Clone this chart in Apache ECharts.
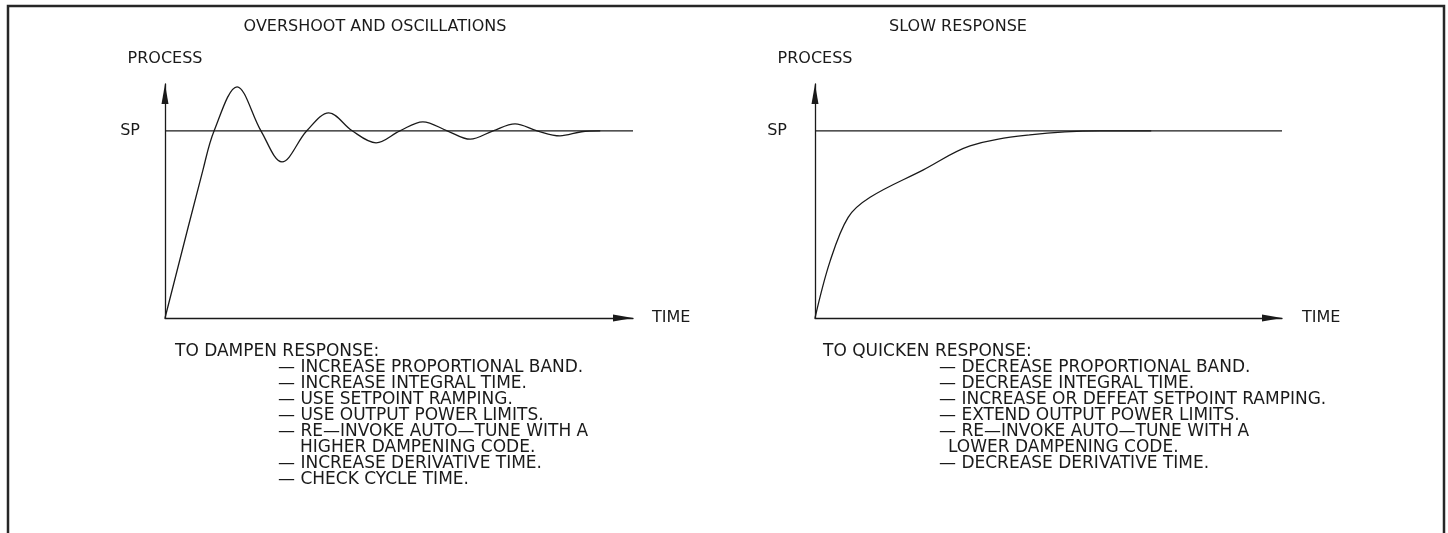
<!DOCTYPE html>
<html>
<head>
<meta charset="utf-8">
<script src="https://cdn.jsdelivr.net/npm/echarts@6/dist/echarts.min.js"></script>
<style>
html, body { margin: 0; padding: 0; background: #fff; }
#chart { width: 1448px; height: 533px; }
</style>
</head>
<body>
<div id="chart"></div>
<script>
// same units on both panels: time 0..100, process 0..125, setpoint at 100
var spValue = 100;
var timeMax = 100;
var processMax = 125;

// left panel: overshoot and oscillations (peaks, troughs and SP crossings)
var overshootTime  = [0, 8.1, 10.5, 15.4, 20.5, 25, 30.3, 35, 40, 45.1, 50.2, 55.1, 60.3, 65.2, 70.1, 74.8, 79.5, 84.4, 89, 93];
var overshootValue = [0, 79, 100, 123.5, 100, 83.4, 100, 109.6, 100, 93.6, 100, 104.8, 100, 95.5, 100, 103.7, 100, 97.3, 99.5, 100];

// right panel: slow response
var slowTime  = [0, 3.2, 7.1, 11.8, 23.1, 33.2, 46.0, 61, 72];
var slowValue = [0, 30.1, 53.8, 64.5, 79, 91.9, 97.8, 100, 100];

var panelTitles = ['OVERSHOOT AND OSCILLATIONS', 'SLOW RESPONSE'];
var dampenHead = 'TO DAMPEN RESPONSE:';
var dampenItems = [
    '— INCREASE PROPORTIONAL BAND.',
    '— INCREASE INTEGRAL TIME.',
    '— USE SETPOINT RAMPING.',
    '— USE OUTPUT POWER LIMITS.',
    '— RE—INVOKE AUTO—TUNE WITH A',
    'HIGHER DAMPENING CODE.',
    '— INCREASE DERIVATIVE TIME.',
    '— CHECK CYCLE TIME.'
];
var quickenHead = 'TO QUICKEN RESPONSE:';
var quickenItems = [
    '— DECREASE PROPORTIONAL BAND.',
    '— DECREASE INTEGRAL TIME.',
    '— INCREASE OR DEFEAT SETPOINT RAMPING.',
    '— EXTEND OUTPUT POWER LIMITS.',
    '— RE—INVOKE AUTO—TUNE WITH A',
    'LOWER DAMPENING CODE.',
    '— DECREASE DERIVATIVE TIME.'
];

var ink = '#1a1a1a';
var font = '"DejaVu Sans", sans-serif';

function zip(xs, ys) {
    return xs.map(function (x, i) { return [x, ys[i]]; });
}

function makeX(i, gap) {
    return {
        type: 'value', gridIndex: i, min: 0, max: timeMax,
        name: 'TIME', nameLocation: 'end', nameGap: gap,
        nameTextStyle: { color: ink, fontSize: 16, fontFamily: font },
        axisLine: { show: true, symbol: ['none', 'triangle'], symbolSize: [7, 20], symbolOffset: [0, -10],
            lineStyle: { color: ink, width: 1.3 } },
        axisTick: { show: false }, axisLabel: { show: false }, splitLine: { show: false }
    };
}

function makeY(i, margin) {
    return {
        type: 'value', gridIndex: i, min: 0, max: processMax, interval: 100,
        name: 'PROCESS', nameLocation: 'end', nameGap: 17,
        nameTextStyle: { color: ink, fontSize: 16, fontFamily: font, align: 'center' },
        axisLine: { show: true, symbol: ['none', 'triangle'], symbolSize: [7, 20], symbolOffset: [0, -10],
            lineStyle: { color: ink, width: 1.3 } },
        axisTick: { show: false },
        axisLabel: { margin: margin, color: ink, fontSize: 16, fontFamily: font,
            formatter: function (v) { return v === spValue ? 'SP' : ''; } },
        splitLine: { show: false }
    };
}

// x0 = [header x, item x, indent of a wrapped item]
function textLines(x0, head, items) {
    var st = function (t) {
        return { text: t, font: '17px ' + font, fill: ink, verticalAlign: 'middle', textVerticalAlign: 'middle' };
    };
    var out = [{ type: 'text', x: x0[0], y: 352, style: st(head) }];
    items.forEach(function (t, i) {
        var x = t.charAt(0) === '—' ? x0[1] : x0[1] + x0[2];
        out.push({ type: 'text', x: x, y: 368 + i * 16, style: st(t) });
    });
    return out;
}

function lineSeries(i, data, smooth) {
    return {
        type: 'line', xAxisIndex: i, yAxisIndex: i, data: data, smooth: smooth || false,
        symbol: 'none', lineStyle: { color: ink, width: 1.3 }
    };
}

var myChart = echarts.init(document.getElementById('chart'));

var option = {
    animation: false,
    backgroundColor: '#fff',
    grid: [
        { left: 165, top: 84, width: 468, height: 234 },
        { left: 815, top: 84, width: 467, height: 234 }
    ],
    xAxis: [makeX(0, 19), makeX(1, 20)],
    yAxis: [makeY(0, 25), makeY(1, 28)],
    series: [
        lineSeries(0, [[0, spValue], [timeMax, spValue]]),
        lineSeries(0, zip(overshootTime, overshootValue), 0.35),
        lineSeries(1, [[0, spValue], [timeMax, spValue]]),
        lineSeries(1, zip(slowTime, slowValue), 0.35)
    ],
    graphic: [
        { type: 'polyline', shape: { points: [[8, 540], [8, 6], [1444, 6], [1444, 540]] },
          style: { stroke: '#262626', lineWidth: 2.5, fill: null } },
        { type: 'text', x: 375, y: 27, style: { text: panelTitles[0], font: '16px ' + font, fill: ink,
            align: 'center', verticalAlign: 'middle', textAlign: 'center', textVerticalAlign: 'middle' } },
        { type: 'text', x: 958, y: 27, style: { text: panelTitles[1], font: '16px ' + font, fill: ink,
            align: 'center', verticalAlign: 'middle', textAlign: 'center', textVerticalAlign: 'middle' } }
    ].concat(textLines([175, 278, 22], dampenHead, dampenItems))
     .concat(textLines([823, 939, 9], quickenHead, quickenItems))
};

myChart.setOption(option);
window.addEventListener('resize', function () { myChart.resize(); });
</script>
</body>
</html>
